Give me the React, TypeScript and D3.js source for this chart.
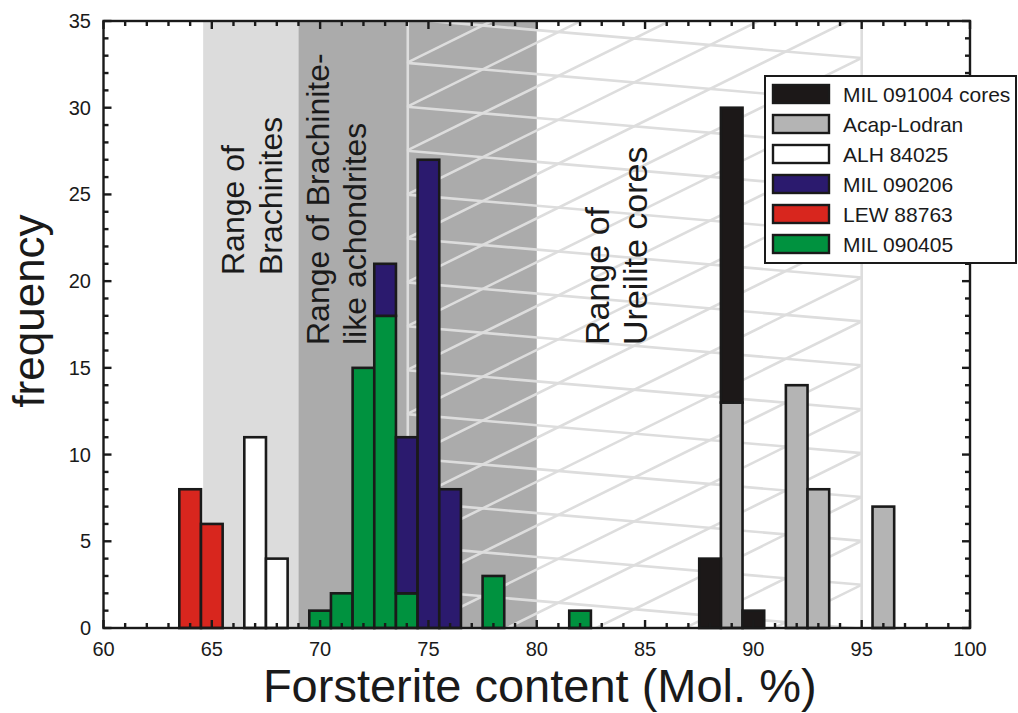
import React from "react";
import * as d3 from "d3";

// Histogram bin centres (Fo mol.%), one-unit-wide bins
const binCenters = [64, 65, 67, 68, 70, 71, 72, 73, 74, 75, 76, 78, 82, 88, 89, 90, 92, 93, 96];

// Counts per sample, aligned with binCenters (stacked in this order)
const lew88763 = [8, 6, 0, 0, 0, 0, 0, 0, 0, 0, 0, 0, 0, 0, 0, 0, 0, 0, 0];
const alh84025 = [0, 0, 11, 4, 0, 0, 0, 0, 0, 0, 0, 0, 0, 0, 0, 0, 0, 0, 0];
const mil090405 = [0, 0, 0, 0, 1, 2, 15, 18, 2, 0, 0, 3, 1, 0, 0, 0, 0, 0, 0];
const mil090206 = [0, 0, 0, 0, 0, 0, 0, 3, 9, 27, 8, 0, 0, 0, 0, 0, 0, 0, 0];
const acapLodran = [0, 0, 0, 0, 0, 0, 0, 0, 0, 0, 0, 0, 0, 0, 13, 0, 14, 8, 7];
const mil091004 = [0, 0, 0, 0, 0, 0, 0, 0, 0, 0, 0, 0, 0, 4, 17, 1, 0, 0, 0];

const stackKeys = ["LEW 88763", "ALH 84025", "MIL 090405", "MIL 090206", "Acap-Lodran", "MIL 091004 cores"];
const stackValues = [lew88763, alh84025, mil090405, mil090206, acapLodran, mil091004];
const legendOrder = ["MIL 091004 cores", "Acap-Lodran", "ALH 84025", "MIL 090206", "LEW 88763", "MIL 090405"];
const seriesColors: Record<string, string> = {
  "MIL 091004 cores": "#1c1818",
  "Acap-Lodran": "#b4b4b4",
  "ALH 84025": "#ffffff",
  "MIL 090206": "#2b1a6e",
  "LEW 88763": "#d8261e",
  "MIL 090405": "#00923f",
};

// Compositional ranges of meteorite groups
const brachiniteRange = [64.6, 69];
const brachLikeRange = [69, 80];
const ureiliteRange = [74, 95];

// Axes
const xDomain = [60, 100];
const yDomain = [0, 35];
const xMajorTicks = [60, 65, 70, 75, 80, 85, 90, 95, 100];
const yMajorTicks = [0, 5, 10, 15, 20, 25, 30, 35];

const W = 1018;
const H = 713;
const FONT = "'Liberation Sans', Arial, Helvetica, sans-serif";
const INK = "#1a1a1a";

export default function App() {
  const x = d3.scaleLinear().domain(xDomain).range([103.5, 970]);
  const y = d3.scaleLinear().domain(yDomain).range([628, 21]);

  const table = binCenters.map((c, i) => {
    const row: Record<string, number> = { center: c };
    stackKeys.forEach((k, j) => (row[k] = stackValues[j][i]));
    return row;
  });
  const stacked = d3.stack<Record<string, number>>().keys(stackKeys)(table);

  // Hatch for the ureilite range: two families of slanted lines meeting at both edges
  const xL = x(ureiliteRange[0]);
  const xR = x(ureiliteRange[1]);
  const yT = y(yDomain[1]);
  const yB = y(yDomain[0]);
  const spacing = 43.9;
  const dropA = 39;
  const riseB = 6 * spacing - dropA;
  const hatch: { x1: number; y1: number; x2: number; y2: number }[] = [];
  for (let k = -2; k <= 20; k++) {
    const yl = yT - 2 + spacing * k;
    hatch.push({ x1: xL, y1: yl, x2: xR, y2: yl + dropA });
    hatch.push({ x1: xL, y1: yl, x2: xR, y2: yl - riseB });
  }

  const xTicks = d3.range(xDomain[0], xDomain[1] + 1, 1);
  const yTicks = d3.range(yDomain[0], yDomain[1] + 1, 1);
  const isMajor = (v: number) => v % 5 === 0;

  const rotText = (tx: number, ty: number, s: string, size = 32) => (
    <text
      transform={`translate(${tx},${ty}) rotate(-90)`}
      fontSize={size}
      fontFamily={FONT}
      fill={INK}
      textAnchor="start"
    >
      {s}
    </text>
  );

  const legX = 765;
  const legY = 76;

  return (
    <svg
      width={W}
      height={H}
      style={{ position: "absolute", left: 0, top: 0, background: "#fff" }}
    >
      <defs>
        <clipPath id="ureClip">
          <rect x={xL} y={yT} width={xR - xL} height={yB - yT} />
        </clipPath>
      </defs>

      {/* range backgrounds */}
      <rect
        x={x(brachiniteRange[0])}
        y={yT}
        width={x(brachiniteRange[1]) - x(brachiniteRange[0])}
        height={yB - yT}
        fill="#dcdcdc"
      />
      <rect
        x={x(brachLikeRange[0])}
        y={yT}
        width={x(brachLikeRange[1]) - x(brachLikeRange[0])}
        height={yB - yT}
        fill="#ababab"
      />

      {/* ureilite hatch */}
      <g clipPath="url(#ureClip)" stroke="#dddddd" strokeWidth={2.6}>
        {hatch.map((h, i) => (
          <line key={i} x1={h.x1} y1={h.y1} x2={h.x2} y2={h.y2} />
        ))}
      </g>
      <line x1={xL + 1} x2={xL + 1} y1={yT} y2={yB} stroke="#dddddd" strokeWidth={2.6} />
      <line x1={xR} x2={xR} y1={yT} y2={yB} stroke="#dddddd" strokeWidth={2.6} />

      {/* range labels */}
      {rotText(244, 275, "Range of")}
      {rotText(282, 275, "Brachinites")}
      {rotText(329, 345, "Range of Brachinite-")}
      {rotText(366, 345, "like achondrites")}
      {rotText(609, 345, "Range of", 34)}
      {rotText(647, 345, "Ureilite cores", 34)}

      {/* stacked histogram bars */}
      <g stroke={INK} strokeWidth={2.6}>
        {stacked.map((layer) =>
          layer.map((d, i) => {
            if (d[1] - d[0] <= 0) return null;
            const c = binCenters[i];
            return (
              <rect
                key={`${layer.key}-${c}`}
                x={x(c - 0.5)}
                y={y(d[1])}
                width={x(c + 0.5) - x(c - 0.5)}
                height={y(d[0]) - y(d[1])}
                fill={seriesColors[layer.key]}
              />
            );
          })
        )}
      </g>

      {/* frame and inward ticks */}
      <g stroke={INK} strokeWidth={2.4}>
        {xTicks.map((v) => {
          const len = isMajor(v) ? 8 : 5;
          return (
            <g key={`xt${v}`}>
              <line x1={x(v)} x2={x(v)} y1={yB} y2={yB - len} />
              <line x1={x(v)} x2={x(v)} y1={yT} y2={yT + len} />
            </g>
          );
        })}
        {yTicks.map((v) => {
          const len = isMajor(v) ? 8 : 5;
          return (
            <g key={`yt${v}`}>
              <line x1={x(xDomain[0])} x2={x(xDomain[0]) + len} y1={y(v)} y2={y(v)} />
              <line x1={x(xDomain[1])} x2={x(xDomain[1]) - len} y1={y(v)} y2={y(v)} />
            </g>
          );
        })}
        <rect
          x={x(xDomain[0])}
          y={yT}
          width={x(xDomain[1]) - x(xDomain[0])}
          height={yB - yT}
          fill="none"
        />
      </g>

      {/* tick labels */}
      <g fontFamily={FONT} fontSize={20} fill={INK}>
        {xMajorTicks.map((v) => (
          <text key={`xl${v}`} x={x(v)} y={656} textAnchor="middle">
            {v}
          </text>
        ))}
        {yMajorTicks.map((v) => (
          <text key={`yl${v}`} x={91} y={y(v)} textAnchor="end" dominantBaseline="central">
            {v}
          </text>
        ))}
      </g>

      {/* axis titles */}
      <text
        x={(x(xDomain[0]) + x(xDomain[1])) / 2 + 3}
        y={702}
        textAnchor="middle"
        fontFamily={FONT}
        fontSize={47}
        fill={INK}
      >
        Forsterite content (Mol. %)
      </text>
      <text
        transform={`translate(44,311) rotate(-90)`}
        textAnchor="middle"
        fontFamily={FONT}
        fontSize={44}
        fill={INK}
      >
        frequency
      </text>

      {/* legend */}
      <rect x={legX} y={legY} width={251} height={187} fill="#fff" stroke={INK} strokeWidth={2} />
      {legendOrder.map((name, i) => {
        const cy = legY + 18 + 30 * i;
        return (
          <g key={name}>
            <rect
              x={legX + 8}
              y={cy - 9}
              width={56}
              height={18}
              fill={seriesColors[name]}
              stroke={INK}
              strokeWidth={2.4}
            />
            <text
              x={legX + 78}
              y={cy}
              dominantBaseline="central"
              fontFamily={FONT}
              fontSize={21}
              fill={INK}
            >
              {name}
            </text>
          </g>
        );
      })}
    </svg>
  );
}
